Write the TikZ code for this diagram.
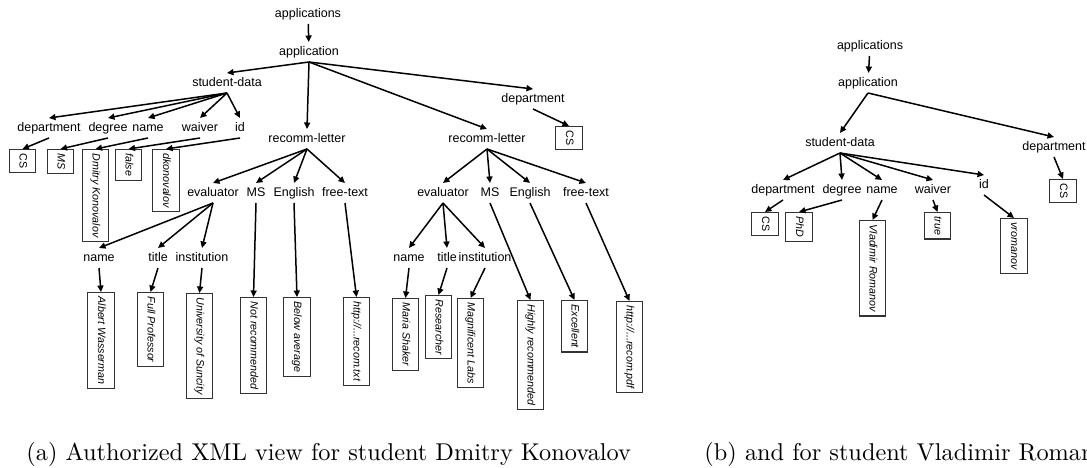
\documentclass[tikz,border=0pt]{standalone}
\usepackage{fontspec}
\usetikzlibrary{arrows.meta}
\newfontfamily\arialfamily{Liberation Sans}
\newcommand\lblfont{\arialfamily\fontsize{12.5}{14}\selectfont}
\newcommand\valfont{\arialfamily\itshape\fontsize{10.7}{12}\selectfont}
\newcommand\valupfont{\arialfamily\fontsize{10.7}{12}\selectfont}
\definecolor{boxgray}{HTML}{333333}
\tikzset{
  lbl/.style={font=\lblfont, inner xsep=1pt, inner ysep=4pt, text height=9pt, text depth=2.6pt},
  val/.style={draw=boxgray, line width=1.1pt, rotate=-90, anchor=west, font=\valfont,
              inner xsep=4pt, inner ysep=8pt, text height=8pt, text depth=2.3pt},
  valup/.style={val, font=\valupfont},
  edge/.style={-{Triangle[length=6.5pt,width=6pt]}, line width=1.5pt},
  caption/.style={anchor=base west, inner sep=0pt, scale=2.43, font=\fontsize{10}{12}\selectfont}
}
\begin{document}
\begin{tikzpicture}[x=1pt,y=-1pt]
\useasboundingbox (0,0) rectangle (1087,468);

% ---------- view (a) ----------
\node[lbl] (aapps) at (308,14) {applications};
\node[lbl] (aapp) at (309,52) {application};
\node[lbl] (asd) at (227,83) {student-data};
\node[lbl] (adep) at (533,99) {department};
\node[lbl] (arl1) at (307,139) {recomm-letter};
\node[lbl] (arl2) at (487,139) {recomm-letter};

\node[lbl] (asdep) at (49,128) {department};
\node[lbl] (asdeg) at (108,128) {degree};
\node[lbl] (asname) at (148,128) {name};
\node[lbl] (aswai) at (200,128) {waiver};
\node[lbl] (asid) at (240,128) {id};

\node[valup] (vcs1) at (22.5,149) {CS};
\node[val] (vms1) at (60.5,149) {MS};
\node[val] (vdk) at (95.5,149) {Dmitry Konovalov};
\node[val] (vfalse) at (128.5,149) {false};
\node[val] (vdkid) at (166,149) {dkonovalov};
\node[valup] (vcs2) at (569,126) {CS};

% first letter
\node[lbl] (aev1) at (213,193) {evaluator};
\node[lbl] (ams1) at (256,193) {MS};
\node[lbl] (aen1) at (294,193) {English};
\node[lbl] (aft1) at (345,193) {free-text};
\node[lbl] (aen1n) at (99,258) {name};
\node[lbl] (aen1t) at (158,258) {title};
\node[lbl] (aen1i) at (202,258) {institution};

\node[val] (vaw) at (101,292) {Albert Wasserman};
\node[val] (vfp) at (150.5,292) {Full Professor};
\node[val] (vus) at (199.5,293) {University of Suncity};
\node[val] (vnr) at (253.5,297) {Not recommended};
\node[val] (vba) at (297,297) {Below average};
\node[val] (vtxt) at (356.5,297) {http://...recom.txt};

% second letter
\node[lbl] (aev2) at (443,193) {evaluator};
\node[lbl] (ams2) at (490,193) {MS};
\node[lbl] (aen2) at (530,193) {English};
\node[lbl] (aft2) at (586,193) {free-text};
\node[lbl] (aen2n) at (409,258) {name};
\node[lbl] (aen2t) at (447,258) {title};
\node[lbl] (aen2i) at (485,258) {institution};

\node[val] (vms) at (405.5,298) {Maria Shaker};
\node[val] (vres) at (438.5,295) {Researcher};
\node[val] (vml) at (470.5,298) {Magnificent Labs};
\node[val] (vhr) at (530.5,300) {Highly recommended};
\node[val] (vex) at (574.5,300) {Excellent};
\node[val] (vpdf) at (629.5,301) {http://...recom.pdf};

\draw[edge] (aapps) -- (aapp);
\foreach \c in {asd,adep,arl1,arl2} \draw[edge] (aapp.south) -- (\c.north);
\foreach \c in {asdep,asdeg,asname,aswai,asid} \draw[edge] (asd.south) -- (\c.north);
\draw[edge] (asdep.south) -- (vcs1.west);
\draw[edge] (asdeg.south) -- (vms1.west);
\draw[edge] (asname.south) -- (vdk.west);
\draw[edge] (aswai.south) -- (vfalse.west);
\draw[edge] (asid.south) -- (vdkid.west);
\draw[edge] (adep.south) -- (vcs2.west);

\foreach \c in {aev1,ams1,aen1,aft1} \draw[edge] (arl1.south) -- (\c.north);
\foreach \c in {aen1n,aen1t,aen1i} \draw[edge] (aev1.south) -- (\c.north);
\draw[edge] (aen1n.south) -- (vaw.west);
\draw[edge] (aen1t.south) -- (vfp.west);
\draw[edge] (aen1i.south) -- (vus.west);
\draw[edge] (ams1.south) -- (vnr.west);
\draw[edge] (aen1.south) -- (vba.west);
\draw[edge] (aft1.south) -- (vtxt.west);

\foreach \c in {aev2,ams2,aen2,aft2} \draw[edge] (arl2.south) -- (\c.north);
\foreach \c in {aen2n,aen2t,aen2i} \draw[edge] (aev2.south) -- (\c.north);
\draw[edge] (aen2n.south) -- (vms.west);
\draw[edge] (aen2t.south) -- (vres.west);
\draw[edge] (aen2i.south) -- (vml.west);
\draw[edge] (ams2.south) -- (vhr.west);
\draw[edge] (aen2.south) -- (vex.west);
\draw[edge] (aft2.south) -- (vpdf.west);

% ---------- view (b) ----------
\node[lbl] (bapps) at (870,46) {applications};
\node[lbl] (bapp) at (868,83) {application};
\node[lbl] (bsd) at (840,143) {student-data};
\node[lbl] (bdep) at (1054,147) {department};
\node[lbl] (bsdep) at (783,190) {department};
\node[lbl] (bsdeg) at (842,190) {degree};
\node[lbl] (bsname) at (882,190) {name};
\node[lbl] (bswai) at (933,190) {waiver};
\node[lbl] (bsid) at (984,185) {id};

\node[valup] (wcs1) at (765,212) {CS};
\node[val] (wphd) at (799,212) {PhD};
\node[val] (wvr) at (872.5,220) {Vladimir Romanov};
\node[val] (wtrue) at (937.5,212) {true};
\node[val] (wvrid) at (1014,218) {vromanov};
\node[valup] (wcs2) at (1063,179) {CS};

\draw[edge] (bapps) -- (bapp);
\foreach \c in {bsd,bdep} \draw[edge] (bapp.south) -- (\c.north);
\foreach \c in {bsdep,bsdeg,bsname,bswai,bsid} \draw[edge] (bsd.south) -- (\c.north);
\draw[edge] (bsdep.south) -- (wcs1.west);
\draw[edge] (bsdeg.south) -- (wphd.west);
\draw[edge] (bsname.south) -- (wvr.west);
\draw[edge] (bswai.south) -- (wtrue.west);
\draw[edge] (bsid.south) -- (wvrid.west);
\draw[edge] (bdep.south) -- (wcs2.west);

% ---------- captions ----------
\node[caption] (capa) at (26,460) {(a) Authorized XML view for student Dmitry Konovalov};
\node[caption] (capb) at (704,460) {(b) and for student Vladimir Romanov};
\end{tikzpicture}
\end{document}
